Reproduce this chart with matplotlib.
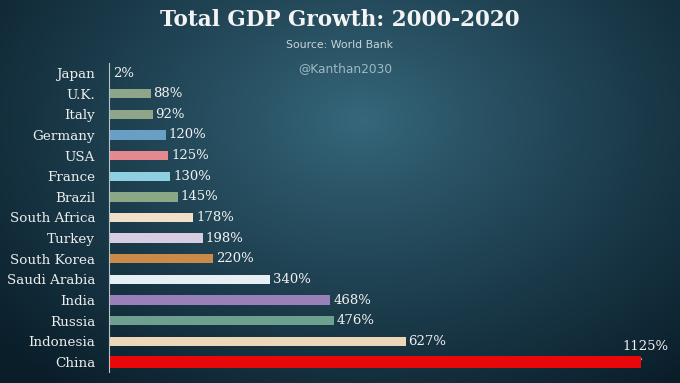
import numpy as np
import matplotlib.pyplot as plt

countries = ["Japan", "U.K.", "Italy", "Germany", "USA", "France", "Brazil",
             "South Africa", "Turkey", "South Korea", "Saudi Arabia", "India",
             "Russia", "Indonesia", "China"]
growth = [2, 88, 92, 120, 125, 130, 145, 178, 198, 220, 340, 468, 476, 627, 1125]
colors = ["#9aa89a", "#8fa58a", "#8fa58a", "#6a9fc4", "#e48a8f", "#8fd0e0",
          "#8aa886", "#f0e0c8", "#d8cce0", "#c98a4a", "#e6f0f4", "#9a80b8",
          "#6ea090", "#ecd8b8", "#e8080a"]

fig = plt.figure(figsize=(6.8, 3.83), dpi=100)

# background: dark teal gradient, lighter towards upper middle
bg = fig.add_axes([0, 0, 1, 1], zorder=0)
yy, xx = np.mgrid[0:383, 0:680]
d = np.sqrt(((xx - 360) / 480.0) ** 2 + ((yy - 120) / 340.0) ** 2)
d = np.clip(d, 0, 1) ** 0.9
c0 = np.array([0x36, 0x68, 0x7c]) / 255.0
c1 = np.array([0x0a, 0x1e, 0x2a]) / 255.0
img = c0[None, None, :] * (1 - d[..., None]) + c1[None, None, :] * d[..., None]
bg.imshow(img, aspect="auto", extent=[0, 1, 0, 1])
bg.axis("off")

ax = fig.add_axes([109 / 680, 1 - 372.3 / 383, 571 / 680, 309.6 / 383], zorder=1)
ax.patch.set_alpha(0)
y = np.arange(len(countries))
heights = [0.45] * (len(countries) - 1) + [0.55]
ax.barh(y, growth, height=heights, color=colors, zorder=2)
ax.set_xlim(0, 1207)
ax.set_ylim(14.5, -0.5)

for sp in ["top", "right", "bottom"]:
    ax.spines[sp].set_visible(False)
ax.spines["left"].set_color("#b8c4c8")
ax.spines["left"].set_linewidth(0.8)
ax.set_xticks([])
ax.set_yticks(y)
ax.set_yticklabels(countries, family="DejaVu Serif", fontsize=9.7, color="#ececec")
ax.tick_params(axis="y", length=0, pad=10)

for i, v in enumerate(growth[:-1]):
    ax.text(v + 6, i, f"{v}%", va="center", ha="left", family="DejaVu Serif",
            fontsize=9.5, color="#f2f2f2")
ax.annotate(f"{growth[-1]}%", xy=(growth[-1], 14 - 0.1), xytext=(growth[-1] + 10, 13.25),
            ha="center", va="center", family="DejaVu Serif", fontsize=9.5, color="#f2f2f2",
            arrowprops=dict(arrowstyle="-", color="#d0d0d0", lw=0.6))

fig.text(0.5, 0.947, "Total GDP Growth: 2000-2020", ha="center", va="center",
         family="DejaVu Serif", fontweight="bold", fontsize=15.5, color="#f4f4f4")
fig.text(0.5, 0.882, "Source: World Bank", ha="center", va="center",
         family="DejaVu Sans", fontsize=7.8, color="#c8d4d8")
fig.text(0.508, 0.822, "@Kanthan2030", ha="center", va="center",
         family="DejaVu Sans", fontsize=8.8, color="#a0b8c2")

fig.savefig("out.png", dpi=100)
